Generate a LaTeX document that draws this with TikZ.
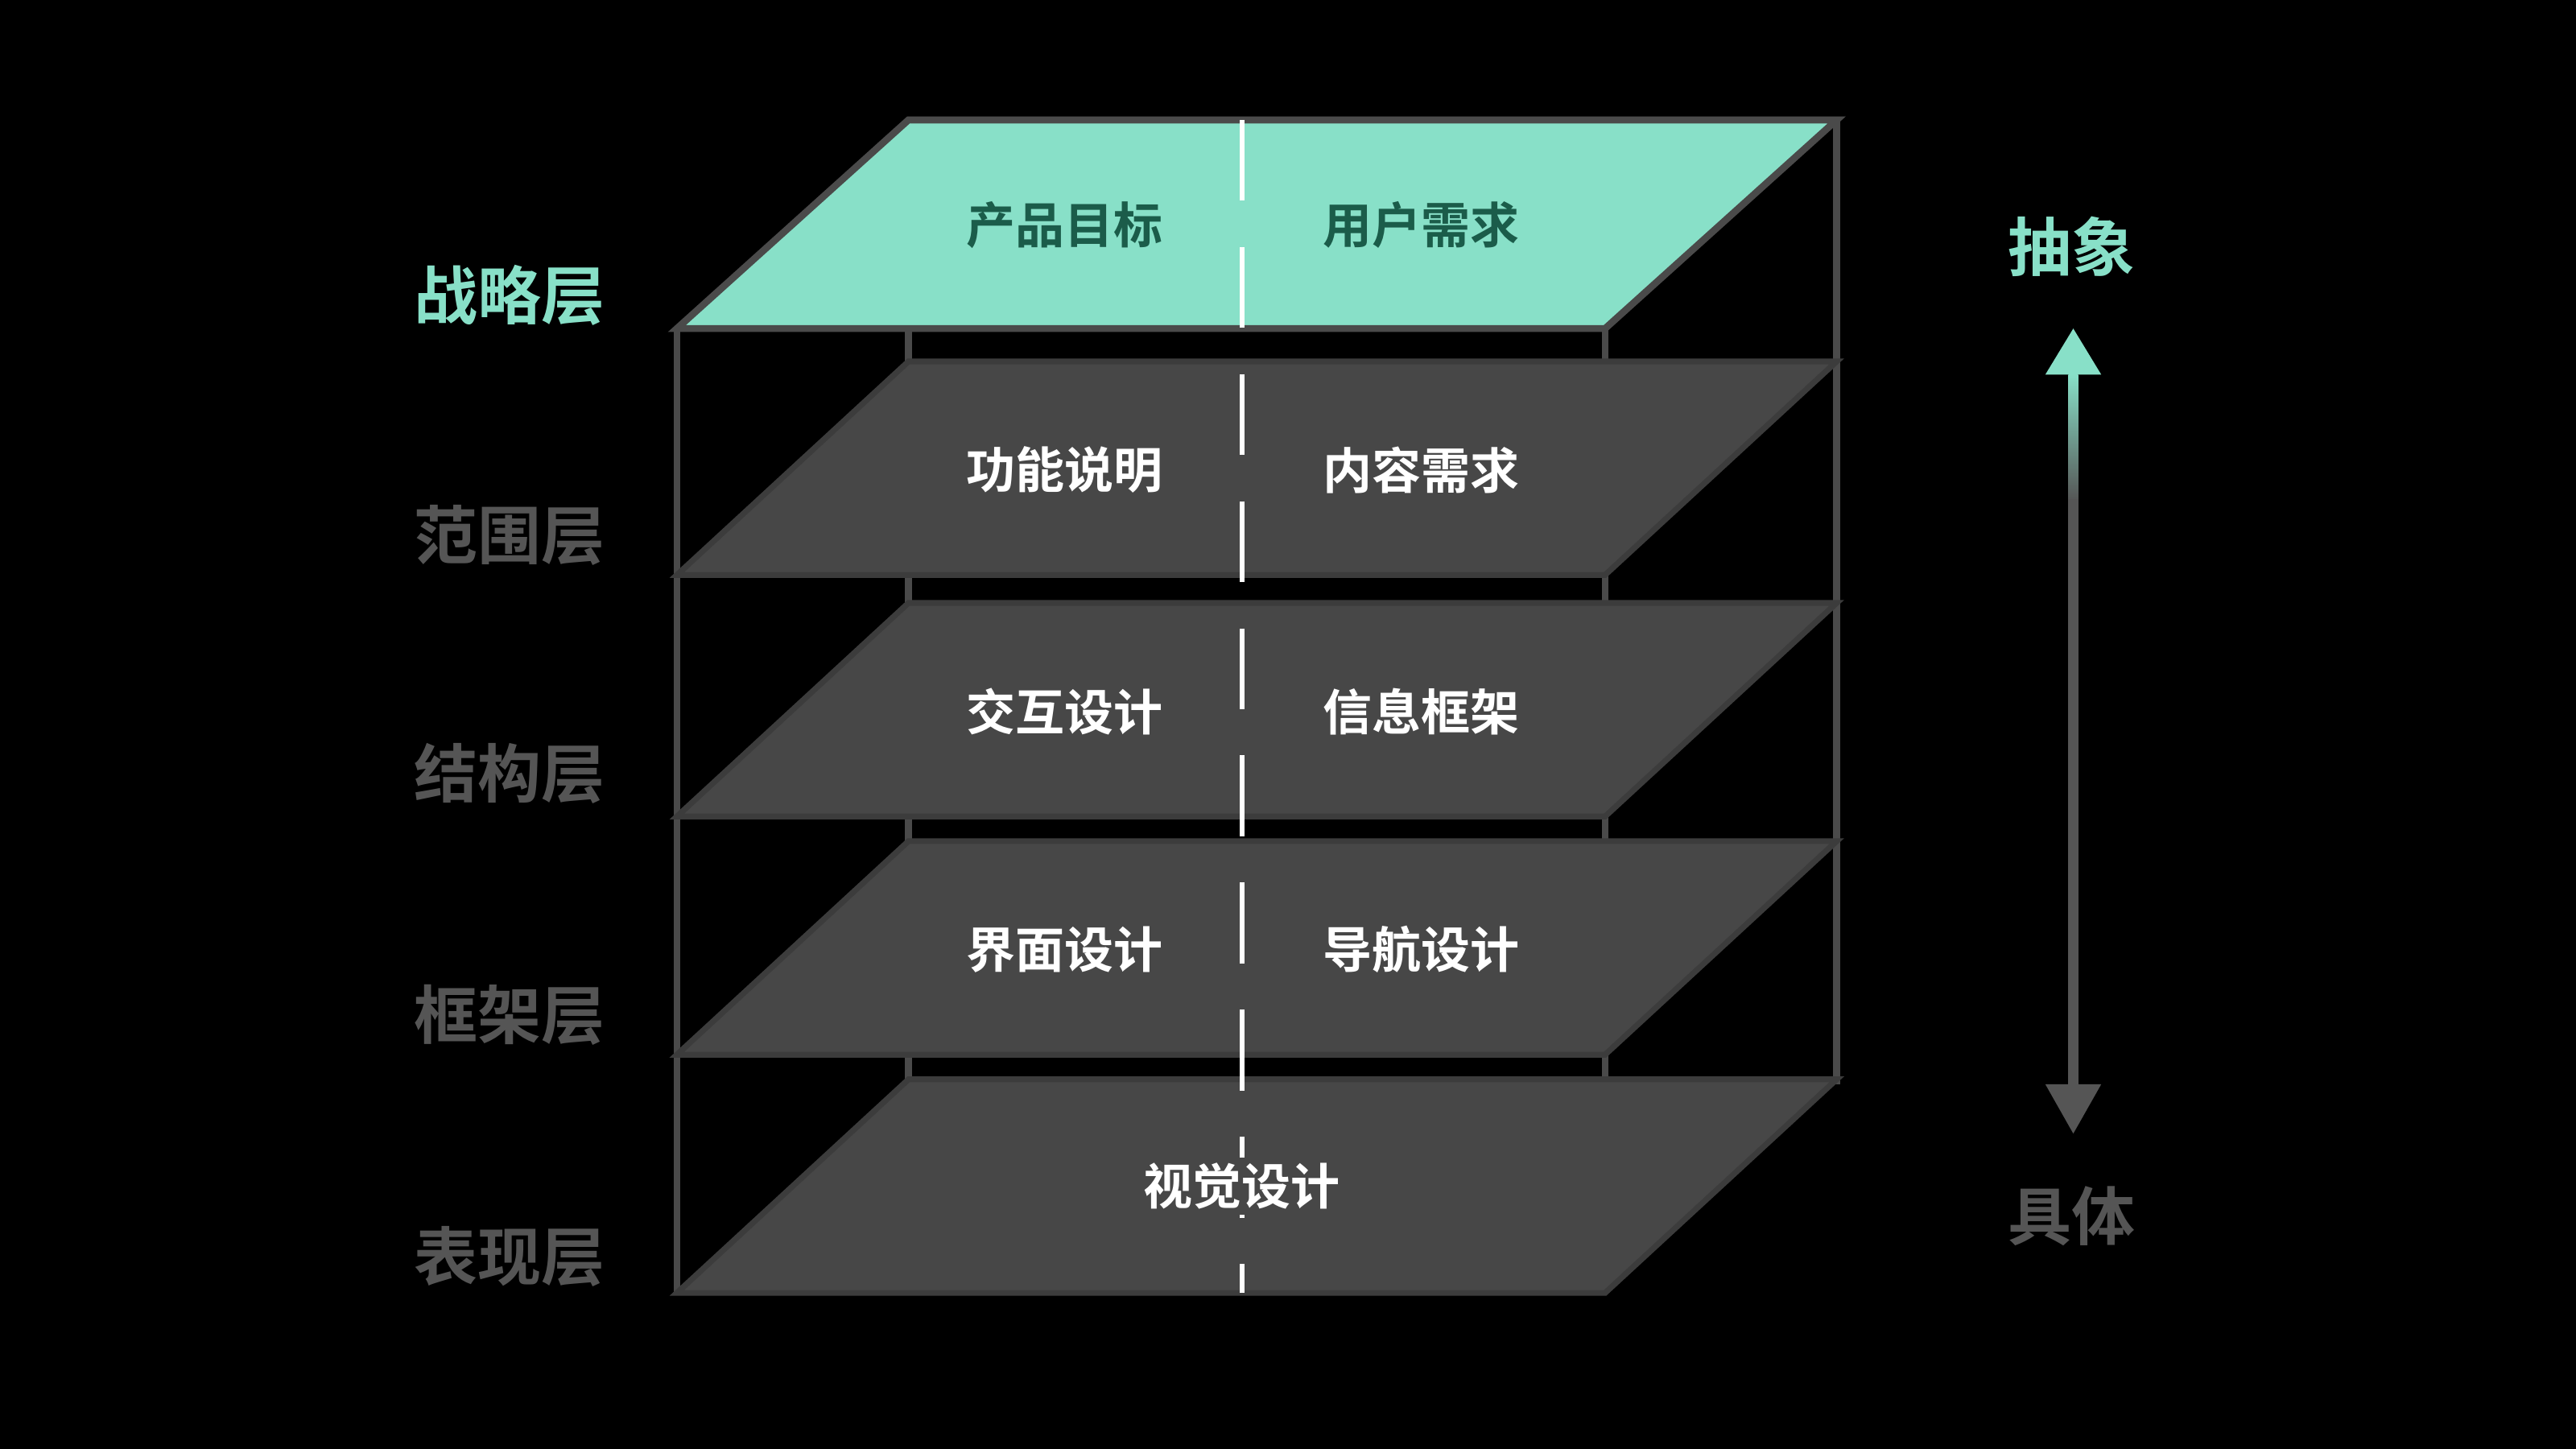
\documentclass[tikz,border=0pt]{standalone}
\usepackage{fontspec}
\setmainfont{Noto Sans CJK SC}[BoldFont={* Bold}]
\usetikzlibrary{positioning}
\definecolor{mint}{HTML}{88E0C8}
\definecolor{layer}{HTML}{474747}
\definecolor{edge}{HTML}{3C3C3C}
\definecolor{frame}{HTML}{4A4A4A}
\definecolor{dim}{HTML}{555555}
\definecolor{deep}{HTML}{1B5C4A}
\tikzset{
  lbl/.style={font=\bfseries\fontsize{11}{11}\selectfont},
  txt/.style={font=\bfseries\fontsize{8.5}{8.5}\selectfont,text=white},
}
\begin{document}
\begin{tikzpicture}[x=0.01cm,y=-0.01cm]
\fill[black] (0,0) rectangle (1568,882);

%frame
\draw[frame,line width=1.2pt] (553,73)--(553,657);
\draw[frame,line width=1.2pt] (977,200)--(977,787);
\draw[frame,line width=1.2pt] (412,200)--(412,787);
\draw[frame,line width=1.2pt] (1118,73)--(1118,660);

%layers
\foreach \t/\b in {220/350,367/497,512/642,657/787}
  \filldraw[fill=layer,draw=edge,line width=1pt] (412,\b)--(553,\t)--(1118,\t)--(977,\b)--cycle;
\filldraw[fill=mint,draw=frame,line width=1.2pt] (412,200)--(553,73)--(1118,73)--(977,200)--cycle;

\draw[white,dashed,dash pattern=on 14pt off 8pt,line width=0.8pt] (756,73)--(756,787);

%texts on layers
\node[txt,text=deep] (goal) at (648,137) {产品目标};
\node[txt,text=deep] (need) at (865,137) {用户需求};
\node[txt] (func) at (648,286) {功能说明};
\node[txt] (cont) at (865,286) {内容需求};
\node[txt] (inter) at (648,433) {交互设计};
\node[txt] (info) at (865,433) {信息框架};
\node[txt] (ui) at (648,578) {界面设计};
\node[txt] (nav) at (865,578) {导航设计};
\node[txt,fill=layer,inner sep=1pt] (vis) at (756,722) {视觉设计};

%left labels
\node[lbl,text=mint] (strat) at (310,180) {战略层};
\node[lbl,text=dim] (scope) at (310,326) {范围层};
\node[lbl,text=dim] (struct) at (310,471) {结构层};
\node[lbl,text=dim] (skel) at (310,618) {框架层};
\node[lbl,text=dim] (surf) at (310,765) {表现层};

%right scale
\node[lbl,text=mint] (abs) at (1261,150) {抽象};
\node[lbl,text=dim] (conc) at (1261,740) {具体};
\coordinate (up) at (1262,200);
\coordinate (down) at (1262,690);
\shade[top color=mint,bottom color=dim] (1259,228) rectangle (1265,305);
\fill[dim] (1259,304) rectangle (1265,662);
\fill[mint] (up)--(1245,228)--(1279,228)--cycle;
\fill[dim] (down)--(1245,660)--(1279,660)--cycle;
\end{tikzpicture}
\end{document}
